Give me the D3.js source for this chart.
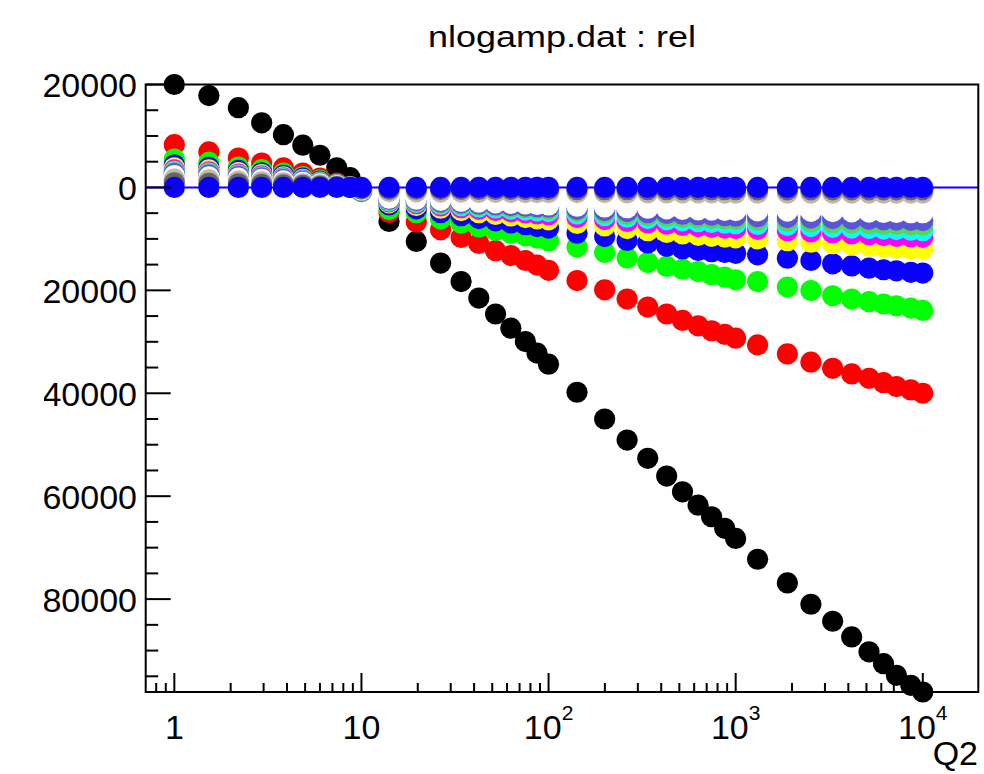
<!DOCTYPE html>
<html>
<head>
<meta charset="utf-8">
<script src="https://cdn.jsdelivr.net/npm/d3@7"></script>
<style>
  html, body { margin: 0; padding: 0; background: #fff; }
  svg { display: block; }
  text { font-family: "Liberation Sans", Arial, Helvetica, sans-serif; fill: #000; }
</style>
</head>
<body>
<svg id="chart" width="984" height="774"></svg>
<script>
// ---------------- data ----------------
const titleText = "nlogamp.dat : rel";
const xAxisTitle = "Q2";

const q2 = [1, 1.53, 2.2, 2.93, 3.83, 4.86, 6.0, 7.38, 8.69, 10,
  14.05, 19.65, 26.5, 34.1, 42.4, 52.1, 62.9, 75.2, 86.8, 100,
  142, 199.5, 263, 339, 428, 520, 630, 744, 874, 1000,
  1310, 1890, 2525, 3300, 4170, 5160, 6170, 7230, 8630, 10000];

const relBlack = [20000, 17850, 15500, 12550, 10250, 8200, 6250, 3800, 1900, -300,
  -6600, -10500, -14700, -18300, -21500, -24600, -27350, -29950, -32200, -34350,
  -39800, -45000, -49100, -52650, -56100, -59150, -61750, -64000, -66250, -68200,
  -72250, -76850, -81000, -84300, -87350, -90250, -92550, -94800, -96750, -98050];

const relRed = [8300, 6900, 5700, 4750, 3780, 2800, 1830, 860, 200, -800,
  -4860, -6700, -8230, -9730, -10900, -12300, -13250, -14200, -15100, -16100,
  -18100, -19900, -21700, -23250, -24600, -25850, -26900, -27850, -28550, -29300,
  -30600, -32350, -33950, -35150, -36250, -37100, -37950, -38700, -39350, -40000];

const relGreen = [5500, 4850, 3970, 3450, 2800, 2100, 1400, 700, 100, -800,
  -4300, -4900, -6150, -6950, -7700, -8350, -8900, -9400, -9850, -10400,
  -11600, -12650, -13700, -14600, -15350, -15900, -16350, -16950, -17450, -17950,
  -18300, -19350, -20050, -21050, -21700, -22200, -22650, -23000, -23450, -23900];

const relBlue = [4400, 3900, 3300, 2850, 2350, 1800, 1250, 650, 100, -700,
  -3400, -4150, -4900, -5500, -6050, -6500, -6900, -7250, -7600, -7900,
  -8900, -9550, -10300, -10800, -11450, -11950, -12250, -12500, -12650, -12800,
  -13100, -13750, -14200, -14850, -15250, -15700, -16000, -16200, -16500, -16650];

const relYellow = [3800, 3400, 2900, 2500, 2050, 1550, 1050, 550, 50, -650,
  -3000, -3500, -4050, -4500, -4900, -5250, -5550, -5850, -6100, -6300,
  -7000, -7500, -8000, -8400, -8750, -9050, -9300, -9500, -9650, -9800,
  -10000, -10350, -10650, -10950, -11200, -11400, -11600, -11750, -11900, -12000];

const relMagenta = [3400, 3050, 2600, 2250, 1850, 1400, 950, 500, 50, -600,
  -2800, -3150, -3600, -3950, -4250, -4500, -4750, -4950, -5150, -5300,
  -5850, -6250, -6600, -6900, -7150, -7400, -7600, -7750, -7900, -8000,
  -8150, -8400, -8650, -8850, -9050, -9200, -9350, -9500, -9600, -9700];

const relCyan = [3100, 2800, 2400, 2050, 1700, 1300, 900, 450, 50, -600,
  -2600, -2900, -3250, -3550, -3800, -4000, -4200, -4400, -4550, -4700,
  -5150, -5500, -5800, -6050, -6300, -6500, -6650, -6800, -6950, -7050,
  -7200, -7400, -7600, -7750, -7900, -8000, -8100, -8200, -8300, -8400];

const relGreen2 = [2900, 2600, 2250, 1900, 1600, 1200, 850, 450, 50, -550,
  -2450, -2700, -3000, -3250, -3450, -3650, -3800, -3950, -4100, -4250,
  -4650, -4950, -5200, -5450, -5650, -5800, -5950, -6050, -6150, -6250,
  -6400, -6550, -6700, -6850, -6950, -7050, -7150, -7200, -7300, -7350];

const relBlue2 = [2700, 2400, 2100, 1800, 1500, 1150, 800, 400, 50, -550,
  -2300, -2550, -2800, -3000, -3200, -3350, -3500, -3650, -3750, -3850,
  -4250, -4500, -4700, -4900, -5050, -5200, -5300, -5400, -5500, -5600,
  -5700, -5850, -5950, -6050, -6150, -6200, -6300, -6350, -6400, -6450];

const relWhite = [2300, 2050, 1800, 1550, 1300, 1000, 700, 350, 50, -500,
  -2100, -2300, -2500, -2700, -2850, -3000, -3100, -3200, -3300, -3400,
  -3650, -3800, -3950, -4050, -4150, -4250, -4350, -4400, -4450, -4500,
  -4550, -4600, -4650, -4700, -4750, -4800, -4850, -4850, -4900, -4900];

const relGrey = [1600, 1450, 1250, 1100, 900, 700, 500, 250, 30, -400,
  -800, -850, -900, -900, -950, -950, -950, -1000, -1000, -1000,
  -1000, -1000, -1050, -1050, -1050, -1050, -1050, -1050, -1100, -1100,
  -1100, -1100, -1100, -1100, -1100, -1100, -1100, -1100, -1100, -1100];

const relDarkGrey = [900, 800, 700, 600, 500, 400, 280, 140, 20, -250,
  -350, -350, -380, -380, -400, -400, -400, -420, -420, -420,
  -430, -430, -440, -440, -440, -450, -450, -450, -450, -450,
  -460, -460, -460, -460, -460, -470, -470, -470, -470, -470];

const relRef = [0, 0, 0, 0, 0, 0, 0, 0, 0, 0,
  0, 0, 0, 0, 0, 0, 0, 0, 0, 0,
  0, 0, 0, 0, 0, 0, 0, 0, 0, 0,
  0, 0, 0, 0, 0, 0, 0, 0, 0, 0];

const seriesList = [relBlack, relRed, relGreen, relBlue, relYellow, relMagenta, relCyan,
  relGreen2, relBlue2, relWhite, relGrey, relDarkGrey, relRef];
const seriesColors = ["#000000", "#ff0000", "#00ff00", "#0a00ff", "#ffff00", "#ff00ff", "#00ffff",
  "#59d454", "#5954d9", "#fefefe", "#c0b6ac", "#6b6560", "#0a00ff"];

const xDomain = [0.703, 19800];
const yMajorTicks = [20000, 0, -20000, -40000, -60000, -80000];
const yTickLabels = ["20000", "0", "-20000", "-40000", "-60000", "-80000"];
const xMajorTicks = [1, 10, 100, 1000, 10000];
const xTickBase = ["1", "10", "10", "10", "10"];
const xTickExp = ["", "", "2", "3", "4"];

// ---------------- layout ----------------
const svg = d3.select("#chart");
const L = 145.7, R = 978.3, T = 84.5, B = 692;

const allVals = seriesList.flat();
const x = d3.scaleLog().domain(xDomain).range([L, R]);
const y = d3.scaleLinear().domain(d3.extent(allVals)).range([B, T]);

// title
svg.append("text")
  .attr("x", 562).attr("y", 47)
  .attr("text-anchor", "middle")
  .attr("font-size", 30)
  .attr("textLength", 268)
  .attr("lengthAdjust", "spacingAndGlyphs")
  .text(titleText);

// zero line
svg.append("line")
  .attr("x1", L).attr("x2", R)
  .attr("y1", y(0)).attr("y2", y(0))
  .attr("stroke", "#0a00ff").attr("stroke-width", 2);

// markers
const plot = svg.append("g");
seriesList.forEach((vals, si) => {
  plot.append("g").selectAll("circle")
    .data(vals.map((v, i) => [q2[i], v]))
    .join("circle")
    .attr("cx", d => x(d[0]))
    .attr("cy", d => y(d[1]))
    .attr("r", 10.6)
    .attr("fill", seriesColors[si]);
});

// frame
svg.append("rect")
  .attr("x", L).attr("y", T)
  .attr("width", R - L).attr("height", B - T)
  .attr("fill", "none").attr("stroke", "#000").attr("stroke-width", 2);

// y ticks
const yMinor = d3.range(-95000, 20001, 5000).filter(v => v >= y.domain()[0] && v <= y.domain()[1]);
svg.append("g").selectAll("line")
  .data(yMinor)
  .join("line")
  .attr("x1", L).attr("x2", d => L + (yMajorTicks.includes(d) ? 25 : 12.5))
  .attr("y1", d => y(d)).attr("y2", d => y(d))
  .attr("stroke", "#000").attr("stroke-width", 2);

// clip for y labels (left part cut off as in reference)
svg.append("defs").append("clipPath").attr("id", "ylabclip")
  .append("rect").attr("x", 44).attr("y", 0).attr("width", 200).attr("height", 774);

svg.append("g").attr("clip-path", "url(#ylabclip)")
  .selectAll("text")
  .data(yMajorTicks)
  .join("text")
  .attr("x", 137)
  .attr("y", d => y(d) + 12.5)
  .attr("text-anchor", "end")
  .attr("font-size", 34)
  .text((d, i) => yTickLabels[i]);

// x ticks
const xMinor = [];
[0.1, 1, 10, 100, 1000].forEach(dec => {
  for (let k = 2; k <= 9; k++) {
    const v = k * dec;
    if (v >= xDomain[0] && v <= xDomain[1]) xMinor.push(v);
  }
});
svg.append("g").selectAll("line")
  .data(xMinor.concat(xMajorTicks))
  .join("line")
  .attr("x1", d => x(d)).attr("x2", d => x(d))
  .attr("y1", B).attr("y2", d => B - (xMajorTicks.includes(d) ? 19 : 9))
  .attr("stroke", "#000").attr("stroke-width", 2);

const xl = svg.append("g").selectAll("text")
  .data(xMajorTicks)
  .join("text")
  .attr("x", d => x(d))
  .attr("y", 739)
  .attr("text-anchor", "middle")
  .attr("font-size", 34);
xl.append("tspan").text((d, i) => xTickBase[i]);
xl.append("tspan")
  .attr("dy", -19)
  .attr("font-size", 21)
  .text((d, i) => xTickExp[i]);

// x axis title
svg.append("text")
  .attr("x", 978).attr("y", 765)
  .attr("text-anchor", "end")
  .attr("font-size", 34)
  .text(xAxisTitle);
</script>
</body>
</html>
